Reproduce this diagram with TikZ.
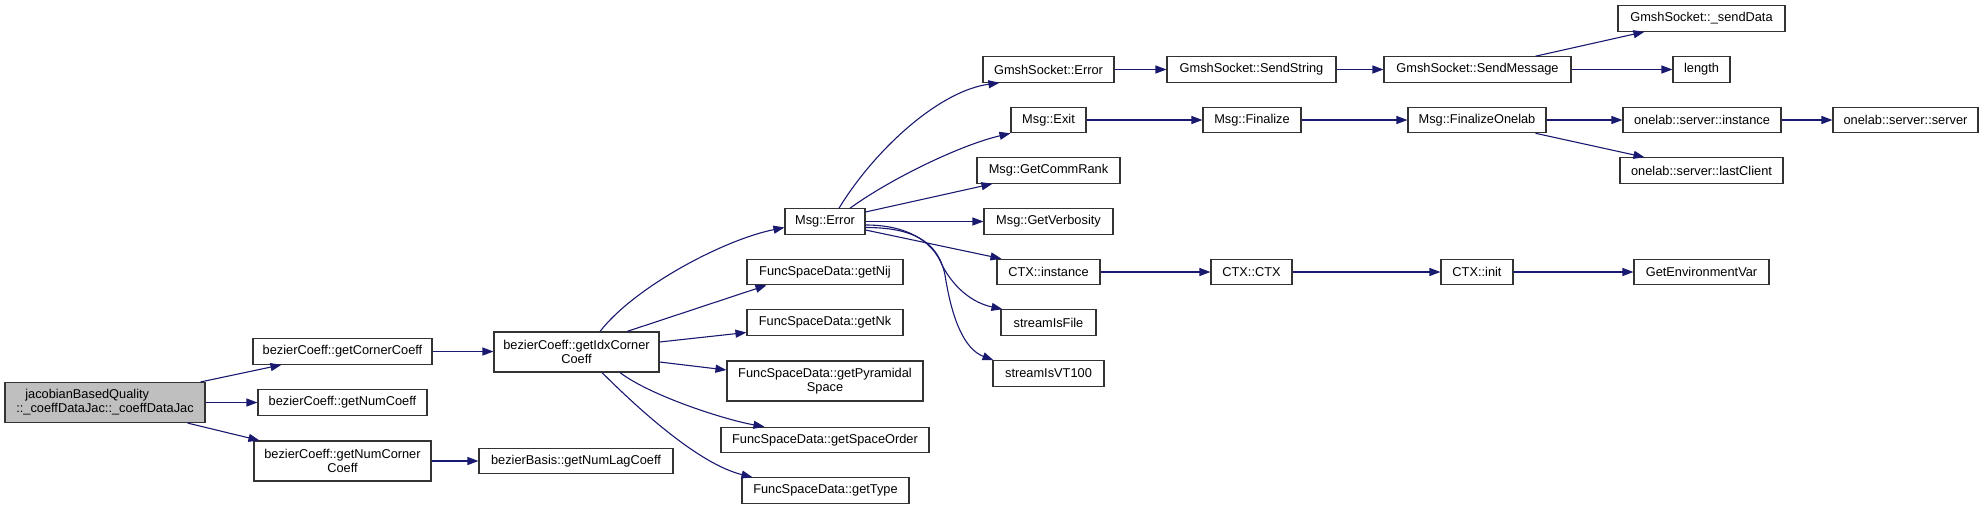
\documentclass[tikz,border=0pt]{standalone}
\usepackage{fontspec}
\setmainfont{Liberation Sans}
\usetikzlibrary{arrows.meta}
\definecolor{edgeblue}{RGB}{25,25,112}
\definecolor{rootgray}{RGB}{191,191,191}
\begin{document}
\begin{tikzpicture}[x=1pt,y=-1pt,
  box/.style={draw=black!80, line width=1.1pt, fill=white, inner sep=0pt,
    font=\fontsize{12.8}{14}\selectfont, align=center, minimum height=25.5pt},
  dbl/.style={minimum height=40pt},
  edge/.style={draw=edgeblue, line width=1.1pt, -{Triangle[length=11pt,width=8pt]}}]
\useasboundingbox (0,0) rectangle (1983,509);
% nodes
\node[box, fill=rootgray, dbl, minimum width=200pt, align=left] (jac) at (105,402.5)
  {\hspace*{9pt}jacobianBasedQuality\\::\_coeffDataJac::\_coeffDataJac};
\node[box, minimum width=179pt] (gcc) at (342.5,351.5) {bezierCoeff::getCornerCoeff};
\node[box, minimum width=169pt] (gnc) at (342.5,402.5) {bezierCoeff::getNumCoeff};
\node[box, dbl, minimum width=177pt] (gncc) at (342.5,461) {bezierCoeff::getNumCorner\\Coeff};
\node[box, dbl, minimum width=165pt] (gidx) at (576.5,352) {bezierCoeff::getIdxCorner\\Coeff};
\node[box, minimum width=194pt] (nlag) at (576,461) {bezierBasis::getNumLagCoeff};
\node[box, minimum width=80pt] (merr) at (825,221.5) {Msg::Error};
\node[box, minimum width=156pt] (nij) at (825,272) {FuncSpaceData::getNij};
\node[box, minimum width=156pt] (nk) at (825,322.5) {FuncSpaceData::getNk};
\node[box, dbl, minimum width=196pt] (pyr) at (825,381) {FuncSpaceData::getPyramidal\\Space};
\node[box, minimum width=208pt] (sord) at (825,440) {FuncSpaceData::getSpaceOrder};
\node[box, minimum width=167pt] (typ) at (825.5,490.5) {FuncSpaceData::getType};
\node[box, minimum width=131pt] (gserr) at (1048.5,69.5) {GmshSocket::Error};
\node[box, minimum width=75pt] (mexit) at (1048.5,120) {Msg::Exit};
\node[box, minimum width=143pt] (rank) at (1048.5,170.5) {Msg::GetCommRank};
\node[box, minimum width=129pt] (verb) at (1048.5,221.5) {Msg::GetVerbosity};
\node[box, minimum width=103pt] (ctxi) at (1048.5,272) {CTX::instance};
\node[box, minimum width=95pt] (sif) at (1048.5,322.5) {streamIsFile};
\node[box, minimum width=111pt] (svt) at (1048.5,373.5) {streamIsVT100};
\node[box, minimum width=169pt] (sstr) at (1251.5,69.5) {GmshSocket::SendString};
\node[box, minimum width=98pt] (mfin) at (1252,120) {Msg::Finalize};
\node[box, minimum width=81pt] (ctxctx) at (1251.5,272) {CTX::CTX};
\node[box, minimum width=187pt] (smsg) at (1477.5,69.5) {GmshSocket::SendMessage};
\node[box, minimum width=138pt] (fonl) at (1477,120) {Msg::FinalizeOnelab};
\node[box, minimum width=72pt] (ctxinit) at (1477,272) {CTX::init};
\node[box, minimum width=167pt] (sdata) at (1701.5,18.5) {GmshSocket::\_sendData};
\node[box, minimum width=57pt] (len) at (1701.5,69.5) {length};
\node[box, minimum width=158pt] (osi) at (1702,120) {onelab::server::instance};
\node[box, minimum width=163pt] (olc) at (1701.5,170.5) {onelab::server::lastClient};
\node[box, minimum width=135pt] (genv) at (1701.5,272) {GetEnvironmentVar};
\node[box, minimum width=145pt] (oss) at (1905.5,120) {onelab::server::server};
% edges
\draw[edge] ([xshift=-5pt]jac.north east) -- ([xshift=29pt]gcc.south west);
\draw[edge] (jac.east) -- (gnc.west);
\draw[edge] ([xshift=-18pt]jac.south east) -- ([xshift=6pt]gncc.north west);
\draw[edge] (gcc.east) -- (gcc.east -| gidx.west);
\draw[edge] (gncc.east) -- (nlag.west);
\draw[edge] ([xshift=23.5pt]gidx.north) .. controls +(35,-45) and +(-60,12) .. ([yshift=-6pt]merr.west);
\draw[edge] ([xshift=50.5pt]gidx.north) -- ([xshift=20pt]nij.south west);
\draw[edge] ([yshift=10pt]gidx.east) -- ([yshift=-10pt]nk.west);
\draw[edge] ([yshift=-10pt]gidx.east) -- ([yshift=11pt]pyr.west);
\draw[edge] ([xshift=43.5pt]gidx.south) .. controls +(30,23) and +(-40,-7) .. ([xshift=44pt]sord.north west);
\draw[edge] ([xshift=25.5pt]gidx.south) .. controls +(38,38) and +(-53,-13) .. ([xshift=11pt]typ.north west);
\draw[edge] ([xshift=14pt]merr.north) .. controls +(36,-59) and +(-60,8) .. ([xshift=17pt]gserr.south west);
\draw[edge] ([xshift=25pt]merr.north) .. controls +(40,-29) and +(-51,12) .. (mexit.south west);
\draw[edge] ([yshift=9.5pt]merr.east) -- ([xshift=16pt]rank.south west);
\draw[edge] (merr.east) -- (verb.west);
\draw[edge] ([yshift=-8.5pt]merr.east) -- ([xshift=5pt]ctxi.north west);
\draw[edge] ([yshift=-3.5pt]merr.east) .. controls +(40,0) and +(-10,-25) .. (942,265)
  .. controls +(13,25) and +(-28,-6) .. ([xshift=2pt]sif.north west);
\draw[edge] ([yshift=-6pt]merr.east) .. controls +(45,0) and +(-7,-35) .. (945,275)
  .. controls +(7,45) and +(-29,-11) .. ([xshift=1pt]svt.north west);
\draw[edge] (gserr.east) -- (sstr.west);
\draw[edge] (sstr.east) -- (smsg.west);
\draw[edge] ([xshift=-36pt]smsg.north east) -- ([xshift=27pt]sdata.south west);
\draw[edge] (smsg.east) -- (len.west);
\draw[edge] (mexit.east) -- (mfin.west);
\draw[edge] (mfin.east) -- (fonl.west);
\draw[edge] (fonl.east) -- (osi.west);
\draw[edge] (osi.east) -- (oss.west);
\draw[edge] ([xshift=-11pt]fonl.south east) -- ([xshift=25pt]olc.north west);
\draw[edge] (ctxi.east) -- (ctxctx.west);
\draw[edge] (ctxctx.east) -- (ctxinit.west);
\draw[edge] (ctxinit.east) -- (genv.west);
\end{tikzpicture}
\end{document}
